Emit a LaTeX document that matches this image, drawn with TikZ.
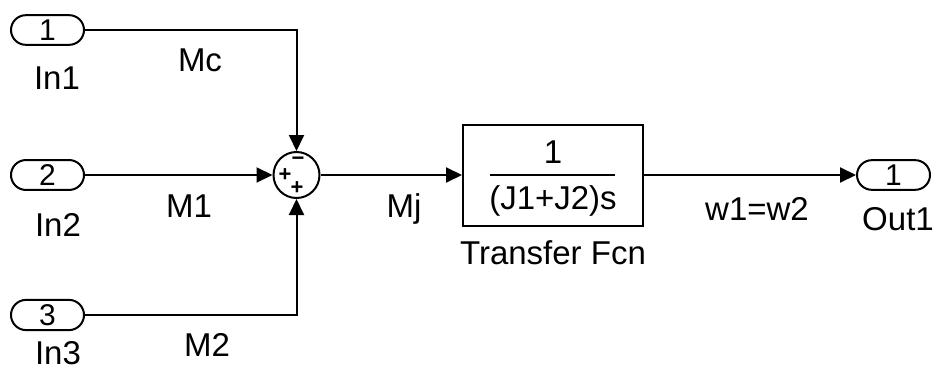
\documentclass[tikz,border=0pt]{standalone}
\usepackage{fontspec}
\setmainfont{Liberation Sans}
\usetikzlibrary{arrows.meta,positioning,shapes.misc}
\tikzstyle{sigline} = [-{Triangle[length=16pt,width=15pt]}, line width=2pt]
\tikzstyle{port} = [draw, rounded rectangle, line width=2pt, minimum width=73pt, minimum height=25pt, inner xsep=0pt, inner ysep=4.5pt]
\tikzstyle{sgn} = [font=\fontsize{22}{22}\selectfont\bfseries, inner sep=0pt]

\begin{document}
\begin{tikzpicture}[x=1pt,y=-1pt, font=\fontsize{33}{38}\selectfont]
\useasboundingbox (0,0) rectangle (935,372);
% ports
\node[port] (in1) at (47.5,30) {\fontsize{30}{34}\selectfont 1};
\node[port] (in2) at (47.5,175) {\fontsize{30}{34}\selectfont 2};
\node[port] (in3) at (47.5,315) {\fontsize{30}{34}\selectfont 3};
\node[port] (out1) at (893.5,175) {\fontsize{30}{34}\selectfont 1};
\node (lblin1) at (57,78) {In1};
\node (lblin2) at (58,225) {In2};
\node (lblin3) at (58,353) {In3};
\node (lblout1) at (898,219) {Out1};
% sum
\node[draw, circle, line width=2pt, minimum size=46pt, inner sep=0pt] (sum) at (296.5,175) {};
\node[sgn] (sgnm) at (298,161) {−};
\node[sgn] (sgnpa) at (285,175) {+};
\node[sgn] (sgnpb) at (297,188) {+};
% transfer fcn
\node[draw, line width=2pt, minimum width=180pt, minimum height=101pt, inner sep=0pt] (tf) at (553,175) {};
\node (num) at (553,152) {1};
\node (den) at (553,201) {(J1+J2)s};
\draw[line width=2pt] (490,175) -- (615,175);
\node (lbltf) at (553,253) {Transfer Fcn};
% signals
\draw[sigline] (in1.east) -| (sum.north);
\draw[sigline] (in2.east) -- (sum.west);
\draw[sigline] (in3.east) -| (sum.south);
\draw[sigline] (sum.east) -- (tf.west);
\draw[sigline] (tf.east) -- (out1.west);
\node (lblmc) at (200,60) {Mc};
\node (lblm1) at (189,206) {M1};
\node (lblm2) at (207,345) {M2};
\node (lblmj) at (404,209) {Mj};
\node (lblw) at (757,209) {w1=w2};
\end{tikzpicture}
\end{document}
